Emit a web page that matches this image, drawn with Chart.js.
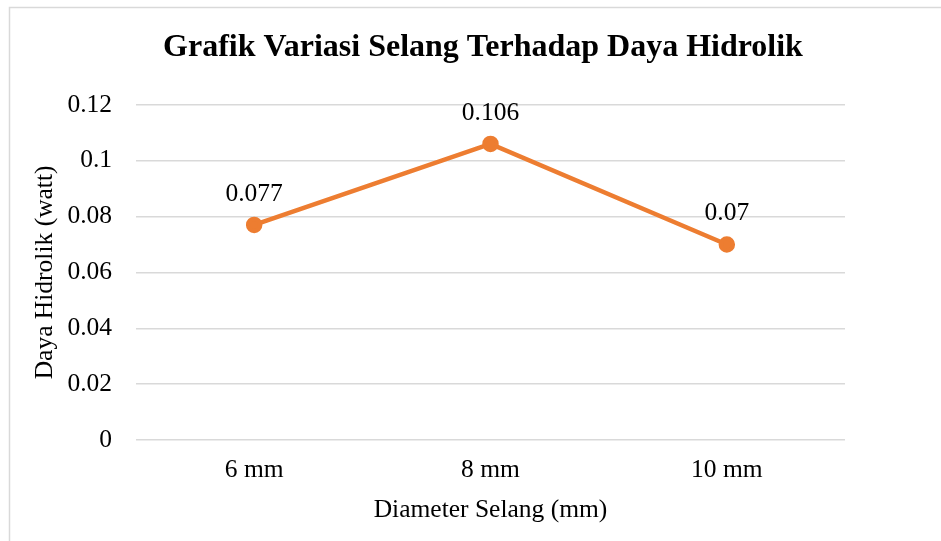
<!DOCTYPE html>
<html>
<head>
<meta charset="utf-8">
<script src="https://cdn.jsdelivr.net/npm/chart.js@4"></script>
<style>
html,body{margin:0;padding:0;background:#fff;}
#wrap{width:941px;height:541px;position:relative;}
</style>
</head>
<body>
<div id="wrap"><canvas id="c" width="941" height="541"></canvas></div>
<script>
const categories = ["6 mm", "8 mm", "10 mm"];
const dayaHidrolik = [0.077, 0.106, 0.07];
const dataLabels = ["0.077", "0.106", "0.07"];
const yTicks = [0, 0.02, 0.04, 0.06, 0.08, 0.1, 0.12];
const chartTitle = 'Grafik Variasi Selang Terhadap Daya Hidrolik';

const FONT = "'Liberation Serif', 'Times New Roman', serif";
const ORANGE = '#ED7D31';

const frame = {
  id: 'frame',
  beforeDraw(chart) {
    const ctx = chart.ctx;
    ctx.save();
    ctx.fillStyle = '#fff';
    ctx.fillRect(0, 0, chart.width, chart.height);
    ctx.strokeStyle = '#d9d9d9';
    ctx.lineWidth = 1.5;
    ctx.strokeRect(9.5, 7.5, 1000, 600);
    ctx.restore();
  },
  afterDraw(chart) {
    const ctx = chart.ctx;
    ctx.save();
    ctx.font = 'bold 32px ' + FONT;
    ctx.fillStyle = '#000';
    ctx.textAlign = 'center';
    ctx.textBaseline = 'middle';
    ctx.fillText(chartTitle, 483, 48);
    ctx.restore();
  }
};

const valueLabels = {
  id: 'valueLabels',
  afterDatasetsDraw(chart) {
    const ctx = chart.ctx;
    const meta = chart.getDatasetMeta(0);
    ctx.save();
    ctx.font = '25.5px ' + FONT;
    ctx.fillStyle = '#000';
    ctx.textAlign = 'center';
    ctx.textBaseline = 'middle';
    meta.data.forEach((pt, i) => {
      ctx.fillText(dataLabels[i], pt.x, pt.y - 31);
    });
    ctx.restore();
  }
};

new Chart(document.getElementById('c'), {
  type: 'line',
  data: {
    labels: categories,
    datasets: [{
      data: dayaHidrolik,
      borderColor: ORANGE,
      backgroundColor: ORANGE,
      borderWidth: 4.5,
      pointRadius: 6,
      pointHoverRadius: 6,
      pointBackgroundColor: ORANGE,
      pointBorderColor: ORANGE,
      tension: 0,
      fill: false
    }]
  },
  options: {
    responsive: false,
    animation: false,
    layout: { padding: { left: 20, right: 96, top: 0, bottom: 8 } },
    plugins: {
      legend: { display: false },
      tooltip: { enabled: false },
      title: {
        display: true,
        text: chartTitle,
        color: 'rgba(0,0,0,0)',
        font: { family: FONT, size: 31.5, weight: 'bold' },
        padding: { top: 29, bottom: 38 }
      }
    },
    scales: {
      x: {
        offset: true,
        grid: { display: false, drawTicks: false },
        border: { display: false },
        ticks: { color: '#000', font: { family: FONT, size: 25.5 }, padding: 15, maxRotation: 0 },
        title: {
          display: true,
          text: 'Diameter Selang (mm)',
          color: '#000',
          font: { family: FONT, size: 25.5 },
          padding: { top: 0, bottom: 7 }
        },
        afterFit(s) { s.height = 93; }
      },
      y: {
        min: 0,
        max: 0.12,
        afterBuildTicks(s) { s.ticks = yTicks.map(v => ({ value: v })); },
        grid: { color: '#d9d9d9', lineWidth: 1.5, drawTicks: false },
        border: { display: false },
        ticks: {
          color: '#000',
          font: { family: FONT, size: 25.5 },
          padding: 24,
          callback: v => String(Number(Number(v).toFixed(2)))
        },
        title: {
          display: true,
          text: 'Daya Hidrolik (watt)',
          color: '#000',
          font: { family: FONT, size: 25.5 },
          padding: { top: 10, bottom: 0 }
        },
        afterFit(s) { s.width = 116; }
      }
    }
  },
  plugins: [frame, valueLabels]
});
</script>
</body>
</html>
